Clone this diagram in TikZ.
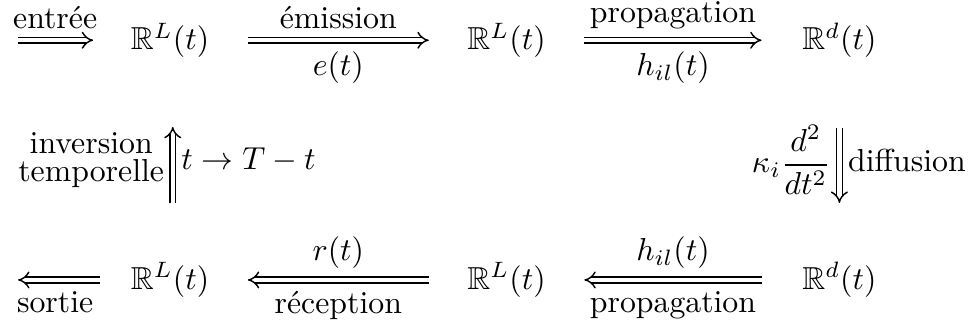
\documentclass[tikz,border=0pt]{standalone}
\usepackage{amsmath,amssymb}
\usetikzlibrary{arrows.meta,positioning}
\tikzset{
  dbl/.style={double,double distance=1.4pt,line width=0.45pt,-{Implies}},
  gap/.style={shorten <=0.86cm,shorten >=0.86cm},
}
\begin{document}
\begin{tikzpicture}
\useasboundingbox (0,0) rectangle (10.79,3.635);
% espaces
\node (rl1) at (1.88,3.19) {$\mathbb{R}^L(t)$};
\node (rl2) at (5.60,3.19) {$\mathbb{R}^L(t)$};
\node (rd3) at (9.28,3.19) {$\mathbb{R}^d(t)$};
\node (rl4) at (1.88,0.54) {$\mathbb{R}^L(t)$};
\node (rl5) at (5.60,0.54) {$\mathbb{R}^L(t)$};
\node (rd6) at (9.28,0.54) {$\mathbb{R}^d(t)$};
\coordinate (inp) at (0.2,3.19);
\coordinate (outp) at (0.2,0.54);
% ligne du haut
\draw[dbl,shorten >=0.85cm] (inp) -- (rl1.center) node[midway,above,xshift=-0.43cm] {entrée};
\draw[dbl,gap] (rl1.center) -- (rl2.center) node[midway,above] {émission} node[midway,below] {$e(t)$};
\draw[dbl,gap] (rl2.center) -- (rd3.center) node[midway,above] {propagation} node[midway,below] {$h_{il}(t)$};
% verticales
\draw[dbl,shorten <=0.852cm,shorten >=0.958cm] ([xshift=0.03cm]rl4.center) -- ([xshift=0.03cm]rl1.center)
  node[pos=0.5,left,align=center,inner sep=2.5pt] {inversion\\[-3pt]temporelle}
  node[pos=0.5,right,inner sep=2.5pt] {$t\rightarrow T-t$};
\draw[dbl,shorten <=0.97cm,shorten >=0.852cm] (rd3.center) -- (rd6.center)
  node[pos=0.5,left,inner sep=2.5pt] {$\kappa_i\dfrac{d^2}{dt^2}$}
  node[pos=0.5,right,inner sep=2.5pt] {diffusion};
% ligne du bas
\draw[dbl,gap] (rl5.center) -- (rl4.center) node[midway,above] {$r(t)$} node[midway,below] {réception};
\draw[dbl,gap] (rd6.center) -- (rl5.center) node[midway,above] {$h_{il}(t)$} node[midway,below] {propagation};
\draw[dbl,shorten <=0.78cm] (rl4.center) -- (outp) node[midway,below,xshift=-0.43cm] {sortie};
\end{tikzpicture}
\end{document}
